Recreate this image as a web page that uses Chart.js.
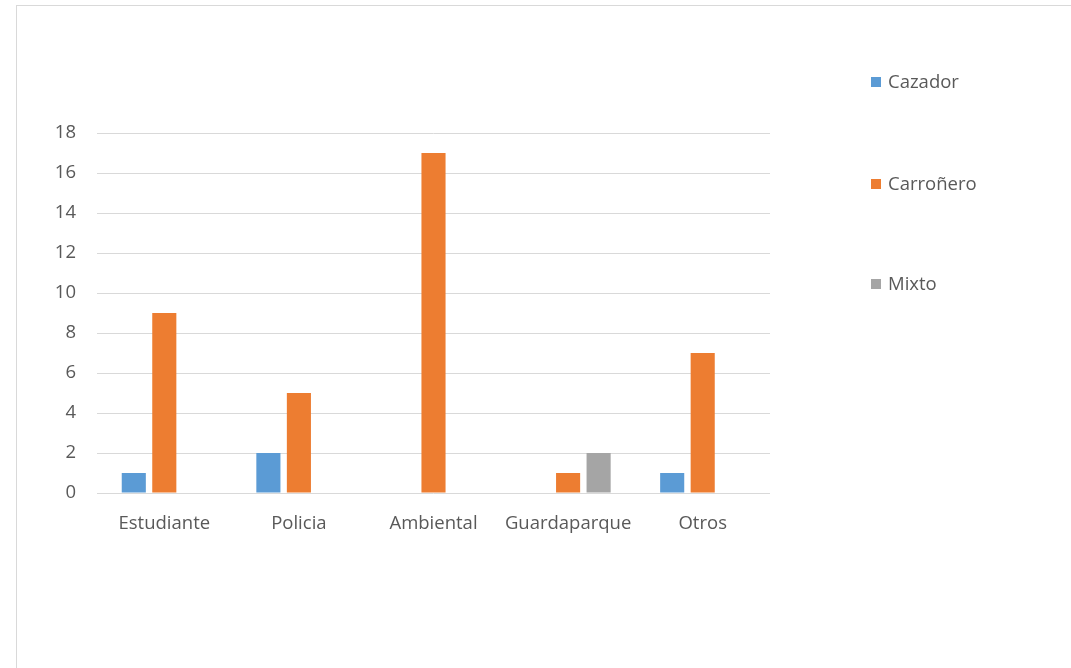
<!DOCTYPE html>
<html>
<head>
<meta charset="utf-8">
<script src="https://cdn.jsdelivr.net/npm/chart.js@4"></script>
<style>
  html, body { margin: 0; padding: 0; background: #fff; }
  #wrap { position: relative; width: 1071px; height: 668px; overflow: hidden; }
  #frame { position: absolute; left: 16px; top: 5px; width: 1080px; height: 700px; border: 1px solid #d9d9d9; box-sizing: border-box; }
  #chart { position: absolute; left: 0; top: 0; }
  .leg { position: absolute; left: 871px; font: 18.5px "Open Sans", sans-serif; color: #595959; line-height: 22px; white-space: nowrap; }
  .leg span { display: inline-block; width: 10px; height: 10px; margin-right: 7px; vertical-align: 1px; }
</style>
</head>
<body>
<div id="wrap">
  <div id="frame"></div>
  <canvas id="chart" width="1071" height="668"></canvas>
  <div id="legend"></div>
</div>
<script>
const categories = ['Estudiante', 'Policia', 'Ambiental', 'Guardaparque', 'Otros'];
const cazador = [1, 2, 0, 0, 1];
const carronero = [9, 5, 17, 1, 7];
const mixto = [0, 0, 0, 2, 0];
const seriesNames = ['Cazador', 'Carroñero', 'Mixto'];
const colors = ['#5b9bd5', '#ed7d31', '#a5a5a5'];
const legendTops = [70, 172, 272];

const font = { family: '"Open Sans", sans-serif', size: 18.5 };

const ctx = document.getElementById('chart').getContext('2d');
new Chart(ctx, {
  type: 'bar',
  data: {
    labels: categories,
    datasets: [cazador, carronero, mixto].map((d, i) => ({
      label: seriesNames[i],
      data: d,
      backgroundColor: colors[i],
      categoryPercentage: 0.68,
      barPercentage: 0.79,
    })),
  },
  options: {
    responsive: false,
    animation: false,
    layout: { padding: { top: 133, right: 301, bottom: 0, left: 0 } },
    plugins: { legend: { display: false }, tooltip: { enabled: false } },
    scales: {
      x: {
        grid: { display: false },
        border: { display: false },
        ticks: { color: '#595959', font: font, padding: 12, maxRotation: 0 },
        afterFit: (s) => { s.height = 175; },
      },
      y: {
        min: 0,
        max: 18,
        grid: { color: '#d9d9d9', drawTicks: false },
        border: { display: false },
        ticks: { stepSize: 2, color: '#595959', font: font, padding: 21 },
        afterFit: (s) => { s.width = 97; },
      },
    },
  },
});

// legend
const legend = document.getElementById('legend');
seriesNames.forEach((name, i) => {
  const el = document.createElement('div');
  el.className = 'leg';
  el.style.top = legendTops[i] + 'px';
  el.innerHTML = '<span style="background:' + colors[i] + '"></span>' + name;
  legend.appendChild(el);
});
</script>
</body>
</html>
